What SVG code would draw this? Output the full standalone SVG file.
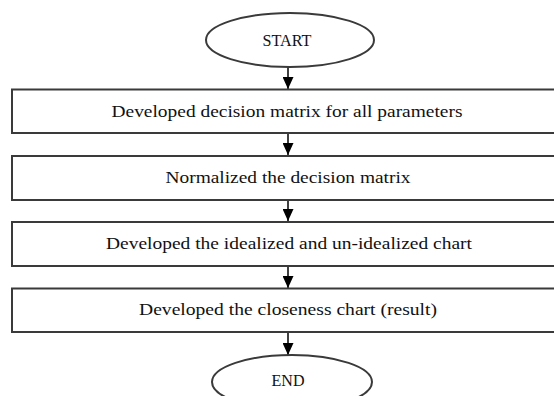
<svg xmlns="http://www.w3.org/2000/svg" width="554" height="396" viewBox="0 0 554 396">
<defs>
<marker id="ah" markerWidth="12" markerHeight="11" refX="12" refY="5.5" orient="auto" markerUnits="userSpaceOnUse" viewBox="0 0 12 11">
<path d="M0,0 L12,5.5 L0,11 Z" fill="#000"/>
</marker>
<style>
.sh{fill:#fff;stroke:#3a3a3a;stroke-width:2}
.tx{font-family:"Liberation Serif","Times New Roman",serif;font-size:17.5px;fill:#111;text-anchor:middle}
.cn{stroke:#000;stroke-width:1.5;fill:none;marker-end:url(#ah)}
</style>
</defs>
<rect width="554" height="396" fill="#fff"/>
<g id="connectors">
<line class="cn" x1="288" y1="67" x2="288" y2="89"/>
<line class="cn" x1="288" y1="133" x2="288" y2="155"/>
<line class="cn" x1="288" y1="200" x2="288" y2="221"/>
<line class="cn" x1="288" y1="266" x2="288" y2="288"/>
<line class="cn" x1="288" y1="332" x2="288" y2="355"/>
</g>
<g id="start">
<ellipse class="sh" cx="290" cy="40" rx="84" ry="27"/>
<text class="tx" x="287" y="45.5" textLength="49" lengthAdjust="spacingAndGlyphs">START</text>
</g>
<g id="step1">
<rect class="sh" x="12" y="89.5" width="560" height="43.5"/>
<text class="tx" x="287" y="116.5" textLength="351" lengthAdjust="spacingAndGlyphs">Developed decision matrix for all parameters</text>
</g>
<g id="step2">
<rect class="sh" x="12" y="156" width="560" height="44"/>
<text class="tx" x="288" y="182.5" textLength="245" lengthAdjust="spacingAndGlyphs">Normalized the decision matrix</text>
</g>
<g id="step3">
<rect class="sh" x="12" y="222" width="560" height="44"/>
<text class="tx" x="289" y="248.5" textLength="366" lengthAdjust="spacingAndGlyphs">Developed the idealized and un-idealized chart</text>
</g>
<g id="step4">
<rect class="sh" x="12" y="288.5" width="560" height="43.5"/>
<text class="tx" x="288" y="314.5" textLength="298" lengthAdjust="spacingAndGlyphs">Developed the closeness chart (result)</text>
</g>
<g id="end">
<ellipse class="sh" cx="292" cy="382" rx="80" ry="27"/>
<text class="tx" x="288" y="385.5" textLength="33" lengthAdjust="spacingAndGlyphs">END</text>
</g>
</svg>
